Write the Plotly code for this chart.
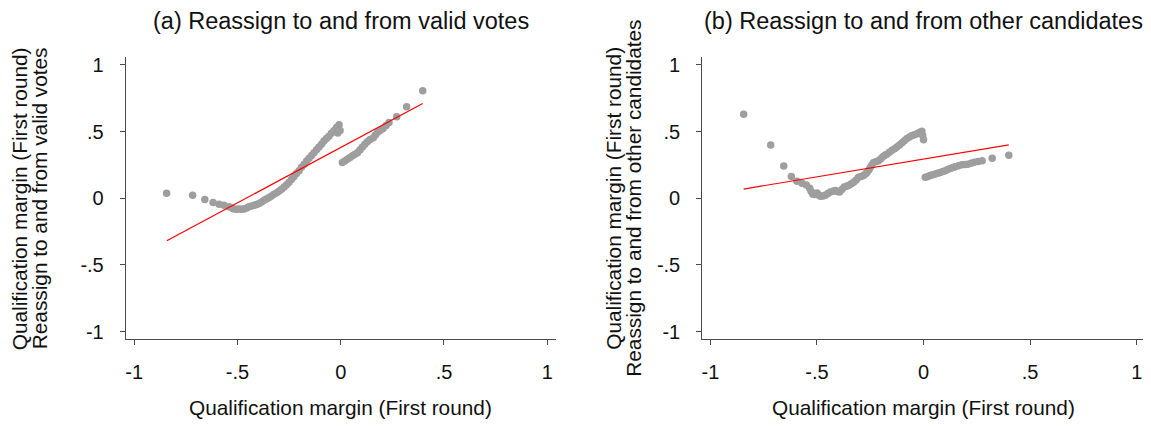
import plotly.graph_objects as go

# --- panel (a): reassign to and from valid votes ---
a_x = [-0.843, -0.717, -0.658, -0.618, -0.589, -0.565, -0.540, -0.528, -0.516, -0.504,
       -0.492, -0.480, -0.468, -0.456, -0.444, -0.432, -0.419, -0.407, -0.395, -0.383,
       -0.371, -0.359, -0.347, -0.335, -0.323, -0.310, -0.298, -0.286, -0.274, -0.262,
       -0.250, -0.238, -0.226, -0.214, -0.202, -0.190, -0.177, -0.165, -0.153, -0.141,
       -0.129, -0.117, -0.105, -0.093, -0.081, -0.069, -0.057, -0.045, -0.032, -0.020,
       -0.014, -0.008, -0.003,
       0.008, 0.020, 0.032, 0.045, 0.057, 0.069, 0.081, 0.093, 0.105, 0.117,
       0.129, 0.142, 0.158, 0.168, 0.180, 0.192, 0.205, 0.220, 0.234, 0.271,
       0.319, 0.397]
a_y = [0.037, 0.022, -0.010, -0.032, -0.044, -0.052, -0.064, -0.072, -0.081, -0.083,
       -0.081, -0.082, -0.080, -0.073, -0.064, -0.058, -0.052, -0.047, -0.040, -0.028,
       -0.015, -0.005, 0.005, 0.018, 0.030, 0.042, 0.054, 0.068, 0.084, 0.101,
       0.120, 0.142, 0.163, 0.185, 0.207, 0.232, 0.256, 0.279, 0.300, 0.321,
       0.342, 0.363, 0.384, 0.406, 0.429, 0.448, 0.466, 0.487, 0.508, 0.530,
       0.490, 0.552, 0.508,
       0.268, 0.280, 0.293, 0.305, 0.318, 0.330, 0.342, 0.362, 0.384, 0.405,
       0.424, 0.440, 0.453, 0.475, 0.497, 0.510, 0.523, 0.545, 0.569, 0.611,
       0.687, 0.806]
a_fit_x = [-0.842, 0.397]
a_fit_y = [-0.318, 0.710]

# --- panel (b): reassign to and from other candidates ---
b_x = [-0.844, -0.717, -0.656, -0.620, -0.594, -0.570, -0.550, -0.534, -0.527, -0.519,
       -0.510, -0.500, -0.492, -0.484, -0.472, -0.461, -0.449, -0.437, -0.425, -0.414,
       -0.404, -0.394, -0.383, -0.372, -0.362, -0.352, -0.340, -0.328, -0.316, -0.305,
       -0.293, -0.281, -0.273, -0.265, -0.257, -0.250, -0.242, -0.234, -0.222, -0.211,
       -0.200, -0.190, -0.181, -0.172, -0.160, -0.148, -0.136, -0.125, -0.113, -0.101,
       -0.090, -0.078, -0.066, -0.054, -0.042, -0.031, -0.020, -0.008, -0.004, 0.000,
       0.008, 0.020, 0.031, 0.043, 0.055, 0.066, 0.078, 0.090, 0.102, 0.113,
       0.125, 0.137, 0.148, 0.164, 0.180, 0.194, 0.208, 0.223, 0.238, 0.256,
       0.275, 0.322, 0.400]
b_y = [0.630, 0.399, 0.242, 0.163, 0.128, 0.113, 0.099, 0.076, 0.050, 0.030,
       0.028, 0.039, 0.025, 0.015, 0.018, 0.022, 0.035, 0.047, 0.052, 0.059,
       0.050, 0.047, 0.066, 0.084, 0.090, 0.096, 0.108, 0.120, 0.138, 0.157,
       0.163, 0.170, 0.182, 0.194, 0.212, 0.231, 0.250, 0.268, 0.275, 0.281,
       0.297, 0.313, 0.322, 0.330, 0.345, 0.360, 0.372, 0.384, 0.400, 0.416,
       0.432, 0.449, 0.460, 0.471, 0.477, 0.483, 0.493, 0.503, 0.470, 0.438,
       0.157, 0.163, 0.170, 0.176, 0.182, 0.188, 0.194, 0.200, 0.207, 0.215,
       0.224, 0.230, 0.236, 0.243, 0.251, 0.254, 0.256, 0.263, 0.271, 0.276,
       0.281, 0.300, 0.323]
b_fit_x = [-0.844, 0.400]
b_fit_y = [0.069, 0.401]

tick_vals = [-1, -0.5, 0, 0.5, 1]
tick_text = ["-1", "-.5", "0", ".5", "1"]

x_title = "Qualification margin (First round)"
y_title_1 = "Qualification margin (First round)"
panel_titles = ["(a) Reassign to and from valid votes",
                "(b) Reassign to and from other candidates"]
y_title_2 = ["Reassign to and from valid votes",
             "Reassign to and from other candidates"]

FONT = "Liberation Sans, Arial, sans-serif"
DOT = "#9e9e9e"
AXC = "#4a4a4a"

# page body has an 8px margin, so the figure is shifted by that much
OFF = 8
W, H = 1151 - OFF, 426 - OFF


def px(x):
    return (x - OFF) / W


def py(y):
    return 1 - (y - OFF) / H


fig = go.Figure()

for i, (xs, ys, fx, fy) in enumerate([(a_x, a_y, a_fit_x, a_fit_y),
                                      (b_x, b_y, b_fit_x, b_fit_y)]):
    xa = "x" if i == 0 else "x2"
    ya = "y" if i == 0 else "y2"
    fig.add_trace(go.Scatter(x=xs, y=ys, mode="markers", xaxis=xa, yaxis=ya,
                             marker=dict(color=DOT, size=7.5, line=dict(width=0)),
                             showlegend=False))
    fig.add_trace(go.Scatter(x=fx, y=fy, mode="lines", xaxis=xa, yaxis=ya,
                             line=dict(color="#ff0000", width=1.2),
                             showlegend=False))

axis_common = dict(
    showgrid=False, zeroline=False, showline=True, linecolor=AXC, linewidth=1.3,
    ticks="outside", ticklen=5, tickwidth=1.2, tickcolor=AXC,
    tickvals=tick_vals, ticktext=tick_text,
    tickfont=dict(family=FONT, size=20, color="#111"),
)

ydom = [py(341), py(55)]
fig.update_layout(
    width=W, height=H,
    margin=dict(l=0, r=0, t=0, b=0),
    paper_bgcolor="white", plot_bgcolor="white",
    font=dict(family=FONT, color="#111"),
    xaxis=dict(domain=[px(125), px(555)], range=[-1.04, 1.04], anchor="y",
               ticklabelstandoff=10, **axis_common),
    yaxis=dict(domain=ydom, range=[-1.057, 1.057], anchor="x",
               ticklabelstandoff=12, **axis_common),
    xaxis2=dict(domain=[px(702), px(1145)], range=[-1.0375, 1.039], anchor="y2",
                ticklabelstandoff=10, **axis_common),
    yaxis2=dict(domain=ydom, range=[-1.057, 1.057], anchor="x2",
                ticklabelstandoff=12, **axis_common),
)

annots = []
centers = [340, 923.5]
ytitle_x = [(18, 38), (613, 633)]
for i in range(2):
    annots.append(dict(text=panel_titles[i], x=px(centers[i]), y=py(18),
                       xref="paper", yref="paper", showarrow=False,
                       xanchor="center", yanchor="middle",
                       font=dict(family=FONT, size=23.5, color="#111")))
    annots.append(dict(text=x_title, x=px(centers[i]), y=py(410),
                       xref="paper", yref="paper", showarrow=False,
                       xanchor="center", yanchor="middle",
                       font=dict(family=FONT, size=20.8, color="#111")))
    annots.append(dict(text=y_title_1, x=px(ytitle_x[i][0]), y=py(198),
                       xref="paper", yref="paper", showarrow=False, textangle=-90,
                       xanchor="center", yanchor="middle",
                       font=dict(family=FONT, size=20.8, color="#111")))
    annots.append(dict(text=y_title_2[i], x=px(ytitle_x[i][1]), y=py(198),
                       xref="paper", yref="paper", showarrow=False, textangle=-90,
                       xanchor="center", yanchor="middle",
                       font=dict(family=FONT, size=20.8, color="#111")))
fig.update_layout(annotations=annots)

fig.write_html("out.html")
